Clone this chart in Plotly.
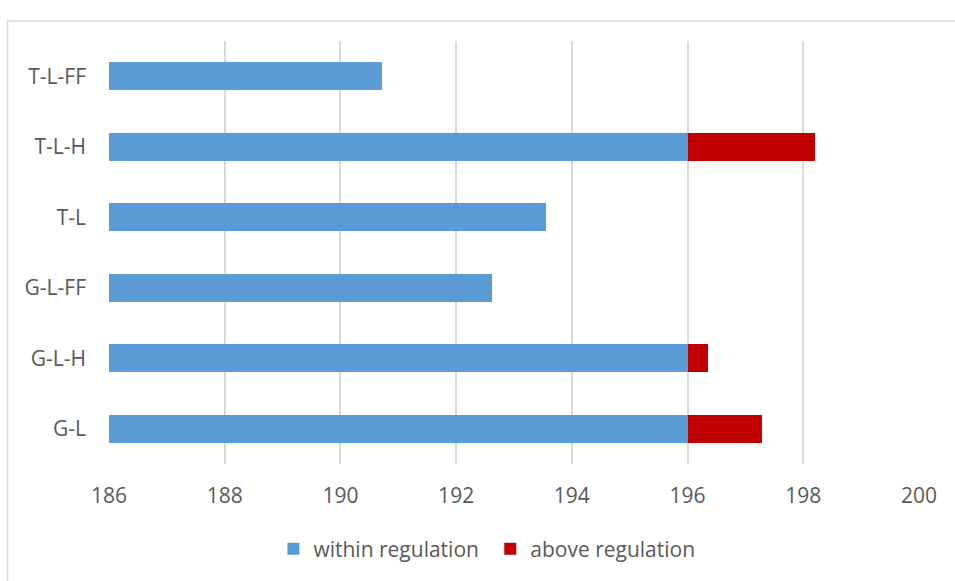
import plotly.graph_objects as go

# Categories listed bottom-to-top as they appear on the axis
categories = ["G-L", "G-L-H", "G-L-FF", "T-L", "T-L-H", "T-L-FF"]
within_regulation = [196.0, 196.0, 192.62, 193.55, 196.0, 190.72]
above_regulation = [1.28, 0.35, 0.0, 0.0, 2.21, 0.0]
x_ticks = [186, 188, 190, 192, 194, 196, 198, 200]

BLUE = "#5B9BD5"
RED = "#C00000"
TEXT = "#595959"
GRID = "#D9D9D9"
FONT = "Open Sans"
FS = 21

W, H = 955, 581
L, R, T, B = 108.5, 36, 41, 117
pw, ph = W - L - R, H - T - B


def px_x(v):
    return (v - L) / pw


def px_y(v):
    return (H - B - v) / ph


fig = go.Figure()
fig.add_trace(go.Bar(
    y=categories, x=within_regulation, orientation="h",
    name="within regulation", marker=dict(color=BLUE, line=dict(width=0)),
    legend="legend",
))
fig.add_trace(go.Bar(
    y=categories, x=above_regulation, orientation="h",
    name="above regulation", marker=dict(color=RED, line=dict(width=0)),
    legend="legend2",
))

# Light outer frame around the chart area
fig.add_shape(type="rect", xref="paper", yref="paper",
              x0=px_x(7), x1=px_x(W + 10), y0=px_y(21), y1=px_y(H + 10),
              line=dict(color=GRID, width=1.5), fillcolor="rgba(0,0,0,0)",
              layer="below")

legend_common = dict(orientation="h", xanchor="left", yanchor="middle",
                     y=px_y(549), font=dict(family=FONT, size=FS, color=TEXT),
                     itemsizing="constant", itemwidth=30, bgcolor="rgba(0,0,0,0)")

fig.update_layout(
    width=W, height=H,
    margin=dict(l=L, r=R, t=T, b=B, pad=0),
    barmode="stack", bargap=0.6,
    plot_bgcolor="white", paper_bgcolor="white",
    font=dict(family=FONT, size=FS, color=TEXT),
    showlegend=True,
    legend=dict(x=px_x(273), **legend_common),
    legend2=dict(x=px_x(490), **legend_common),
    xaxis=dict(range=[186, 200], tickvals=x_ticks, showgrid=True, gridcolor=GRID,
               gridwidth=2, zeroline=False, showline=False, ticks="",
               ticklabelstandoff=17, tickfont=dict(size=FS, color=TEXT)),
    yaxis=dict(showgrid=False, zeroline=False, showline=False, ticks="",
               ticklabelstandoff=22, tickfont=dict(size=FS, color=TEXT)),
)

fig.write_html("out.html")
